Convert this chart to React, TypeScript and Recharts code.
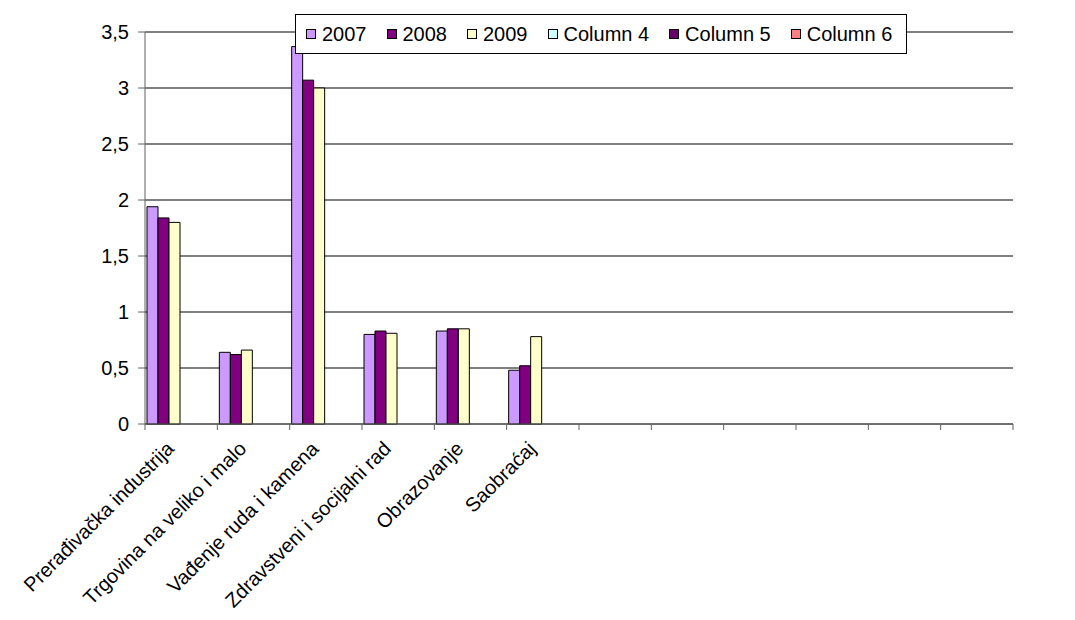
import { BarChart, Bar, XAxis, YAxis, CartesianGrid, Legend } from "recharts";

const categories = [
  "Prerađivačka industrija",
  "Trgovina na veliko i malo",
  "Vađenje ruda i kamena",
  "Zdravstveni i socijalni rad",
  "Obrazovanje",
  "Saobraćaj",
  "",
  "",
  "",
  "",
  "",
  "",
];

const v2007 = [1.94, 0.64, 3.37, 0.8, 0.83, 0.48];
const v2008 = [1.84, 0.62, 3.07, 0.83, 0.85, 0.52];
const v2009 = [1.8, 0.66, 3.0, 0.81, 0.85, 0.78];
const vCol4: number[] = [];
const vCol5: number[] = [];
const vCol6: number[] = [];

const yTicks = [0, 0.5, 1, 1.5, 2, 2.5, 3, 3.5];

const series = [
  { key: "s2007", name: "2007", color: "#CC99FF", values: v2007 },
  { key: "s2008", name: "2008", color: "#800080", values: v2008 },
  { key: "s2009", name: "2009", color: "#FFFFCC", values: v2009 },
  { key: "c4", name: "Column 4", color: "#CCFFFF", values: vCol4 },
  { key: "c5", name: "Column 5", color: "#660066", values: vCol5 },
  { key: "c6", name: "Column 6", color: "#FF8080", values: vCol6 },
];

const data = categories.map((name, i) => {
  const row: Record<string, any> = { id: i, name };
  series.forEach((s) => {
    row[s.key] = s.values[i] ?? null;
  });
  return row;
});

const FONT = "'Liberation Sans', Arial, sans-serif";
const W = 1067;
const H = 612;
const MARGIN = { top: 24, right: 62, left: 0, bottom: 0 };
const Y_W = 137;
const PLOT_W = W - MARGIN.left - MARGIN.right - Y_W;
const BAND = PLOT_W / categories.length;

function CategoryTick(props: any) {
  const { x, y, payload, index } = props;
  const label = categories[payload.value];
  const lx = x - 6;
  const ly = y + 26;
  return (
    <g>
      <line x1={x - BAND / 2} x2={x - BAND / 2} y1={y} y2={y + 6} stroke="#606060" />
      {index === categories.length - 1 && (
        <line x1={x + BAND / 2} x2={x + BAND / 2} y1={y} y2={y + 6} stroke="#606060" />
      )}
      {label ? (
        <text
          x={lx}
          y={ly}
          transform={`rotate(-45, ${lx}, ${ly})`}
          textAnchor="end"
          fontSize={20}
          fontFamily={FONT}
          fill="#000"
        >
          {label}
        </text>
      ) : null}
    </g>
  );
}

function LegendBox(props: any) {
  const items = props.payload || [];
  return (
    <div
      style={{
        width: 612,
        height: 40,
        boxSizing: "border-box",
        border: "1px solid #000",
        background: "#fff",
        display: "flex",
        alignItems: "center",
        paddingLeft: 10,
        fontFamily: FONT,
        fontSize: 20,
        color: "#000",
        whiteSpace: "nowrap",
      }}
    >
      {items.map((it: any, i: number) => (
        <div key={i} style={{ display: "flex", alignItems: "center", marginRight: 20 }}>
          <span
            style={{
              display: "inline-block",
              width: 10,
              height: 10,
              boxSizing: "border-box",
              border: "1px solid #000",
              background: it.color,
              marginRight: 6,
            }}
          />
          <span>{it.value}</span>
        </div>
      ))}
    </div>
  );
}

export default function App() {
  return (
    <div style={{ width: W, height: H, fontFamily: FONT, position: "relative" }}>
      <BarChart
        width={W}
        height={H}
        data={data}
        margin={MARGIN}
        barCategoryGap={2}
        barGap={0}
      >
        <CartesianGrid horizontal vertical={false} stroke="#000" />
        <XAxis
          dataKey="id"
          type="category"
          interval={0}
          height={196}
          tickLine={false}
          tickSize={0}
          tickMargin={0}
          stroke="#606060"
          tick={<CategoryTick />}
        />
        <YAxis
          width={Y_W}
          domain={[0, 3.5]}
          ticks={yTicks}
          interval={0}
          tickSize={7}
          tickMargin={9}
          stroke="#606060"
          tick={{ fill: "#000", fontSize: 20, fontFamily: FONT }}
          tickFormatter={(v: number) => String(v).replace(".", ",")}
        />
        <Legend
          layout="vertical"
          align="center"
          verticalAlign="middle"
          wrapperStyle={{ left: 287, top: 6, width: 612, height: 40 }}
          content={<LegendBox />}
        />
        {series.map((s) => (
          <Bar
            key={s.key}
            dataKey={s.key}
            name={s.name}
            fill={s.color}
            stroke="#000"
            strokeWidth={1}
            isAnimationActive={false}
          />
        ))}
      </BarChart>
    </div>
  );
}
